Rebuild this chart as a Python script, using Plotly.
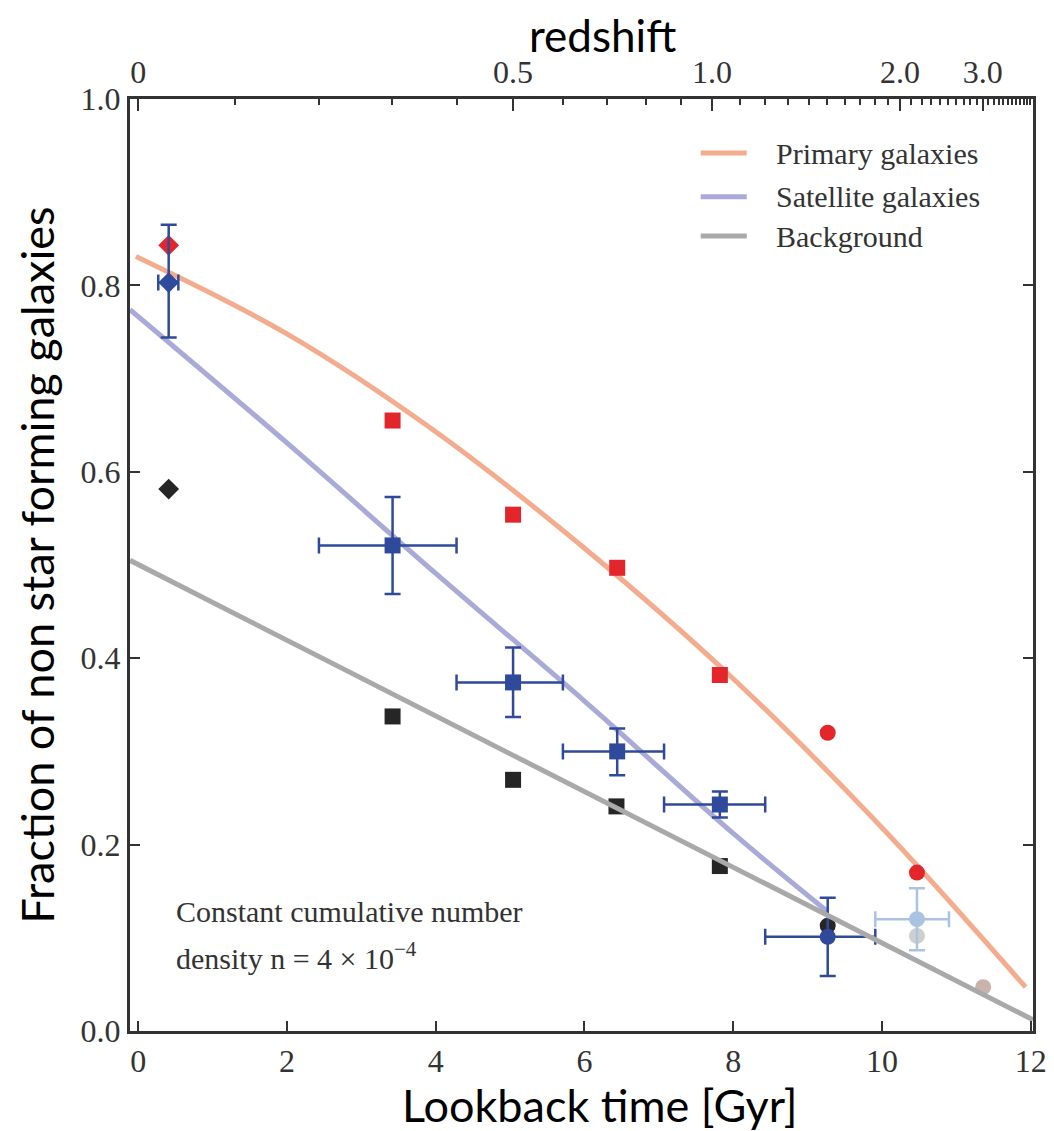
import numpy as np
import plotly.graph_objects as go

# ---------------- data ----------------
# Primary galaxies (red)
prim_x = [0.41, 3.42, 5.04, 6.44, 7.82, 9.27, 10.47]
prim_y = [0.843, 0.655, 0.554, 0.497, 0.382, 0.320, 0.170]
prim_sym = ["diamond", "square", "square", "square", "square", "circle", "circle"]

# Satellite galaxies (blue) with error bounds
sat_x = [0.41, 3.42, 5.04, 6.44, 7.82, 9.27]
sat_y = [0.803, 0.521, 0.374, 0.300, 0.243, 0.101]
sat_xlo = [0.27, 2.43, 4.28, 5.71, 7.07, 8.43]
sat_xhi = [0.54, 4.28, 5.71, 7.07, 8.43, 9.91]
sat_ylo = [0.744, 0.469, 0.337, 0.2745, 0.229, 0.059]
sat_yhi = [0.865, 0.573, 0.4115, 0.3246, 0.257, 0.143]
sat_sym = ["diamond", "square", "square", "square", "square", "circle"]

# Satellite, faded high-z point
satf_x = [10.47]
satf_y = [0.120]
satf_xlo = [9.91]
satf_xhi = [10.90]
satf_ylo = [0.0866]
satf_yhi = [0.1532]

# Background (black)
bg_x = [0.41, 3.42, 5.04, 6.43, 7.82, 9.27, 10.47, 11.36]
bg_y = [0.5815, 0.3375, 0.2695, 0.241, 0.177, 0.113, 0.102, 0.047]
bg_sym = ["diamond", "square", "square", "square", "square", "circle", "circle", "circle"]
bg_col = ["#262626"] * 6 + ["#CFCFCF", "#C9B3AA"]

# Trend curves
prim_line_x = [-0.03, 2.0, 4.0, 6.0, 8.0, 10.0, 11.93]
prim_line_y = [0.831, 0.748, 0.643, 0.518, 0.378, 0.218, 0.047]
sat_line_x = [-0.11, 2.0, 4.0, 6.0, 8.0, 9.27]
sat_line_y = [0.774, 0.631, 0.491, 0.354, 0.212, 0.128]
bg_line_x = [-0.11, 12.03]
bg_line_y = [0.505, 0.012]

# Axis ticks
x_ticks = [0, 2, 4, 6, 8, 10, 12]
y_ticks = [0.0, 0.2, 0.4, 0.6, 0.8, 1.0]
z_major = [0.0, 0.5, 1.0, 2.0, 3.0]
z_major_text = ["0", "0.5", "1.0", "2.0", "3.0"]
z_minor = [round(0.1 * i, 1) for i in range(1, 44)]

legend_names = ["Primary galaxies", "Satellite galaxies", "Background"]
legend_colors = ["#F4AC8F", "#A9AAD7", "#A9A9A9"]

RED = "#E2262C"
BLUE = "#2F4A9B"
LBLUE = "#A9C3E0"
AX = "#333333"
SERIF = "Liberation Serif"
SANS = "Lato"

XR = [-0.11, 12.03]


def lookback(z, H0=70.0, om=0.3):
    """Lookback time in Gyr for flat LCDM (scale mapping for top axis)."""
    if z <= 0:
        return 0.0
    zz = np.linspace(0.0, z, 4001)
    f = 1.0 / ((1 + zz) * np.sqrt(om * (1 + zz) ** 3 + (1 - om)))
    return 977.8 / H0 * np.trapezoid(f, zz)


z_major_t = [lookback(z) for z in z_major]
z_minor_t = [lookback(z) for z in z_minor if z not in z_major]
z_minor_t = [t for t in z_minor_t if t <= XR[1]]

fig = go.Figure()

# lines (background line drawn on the top axis, which shares the same range)
fig.add_trace(go.Scatter(x=bg_line_x, y=bg_line_y, mode="lines", xaxis="x2",
                         line=dict(color=legend_colors[2], width=5), showlegend=False,
                         hoverinfo="skip"))
fig.add_trace(go.Scatter(x=sat_line_x, y=sat_line_y, mode="lines",
                         line=dict(color=legend_colors[1], width=5, shape="spline"),
                         showlegend=False, hoverinfo="skip"))
fig.add_trace(go.Scatter(x=prim_line_x, y=prim_line_y, mode="lines",
                         line=dict(color=legend_colors[0], width=5, shape="spline"),
                         showlegend=False, hoverinfo="skip"))

# primary markers
fig.add_trace(go.Scatter(x=prim_x, y=prim_y, mode="markers", showlegend=False,
                         marker=dict(symbol=prim_sym, size=16, color=RED, line=dict(width=0))))
# background markers
fig.add_trace(go.Scatter(x=bg_x, y=bg_y, mode="markers", showlegend=False,
                         marker=dict(symbol=bg_sym, size=16, color=bg_col, line=dict(width=0))))

# satellite faded
fig.add_trace(go.Scatter(
    x=satf_x, y=satf_y, mode="markers", showlegend=False,
    marker=dict(symbol="circle", size=16, color=LBLUE, line=dict(width=0)),
    error_x=dict(type="data", symmetric=False,
                 array=[h - v for h, v in zip(satf_xhi, satf_x)],
                 arrayminus=[v - l for l, v in zip(satf_xlo, satf_x)],
                 color=LBLUE, thickness=2.5, width=8),
    error_y=dict(type="data", symmetric=False,
                 array=[h - v for h, v in zip(satf_yhi, satf_y)],
                 arrayminus=[v - l for l, v in zip(satf_ylo, satf_y)],
                 color=LBLUE, thickness=2.5, width=8)))

# satellite
fig.add_trace(go.Scatter(
    x=sat_x, y=sat_y, mode="markers", showlegend=False,
    marker=dict(symbol=sat_sym, size=16, color=BLUE, line=dict(width=0)),
    error_x=dict(type="data", symmetric=False,
                 array=[h - v for h, v in zip(sat_xhi, sat_x)],
                 arrayminus=[v - l for l, v in zip(sat_xlo, sat_x)],
                 color=BLUE, thickness=2.5, width=8),
    error_y=dict(type="data", symmetric=False,
                 array=[h - v for h, v in zip(sat_yhi, sat_y)],
                 arrayminus=[v - l for l, v in zip(sat_ylo, sat_y)],
                 color=BLUE, thickness=2.5, width=8)))

# manual legend
leg_y = [0.942, 0.895, 0.853]
shapes = []
annotations = []
for name, col, yy in zip(legend_names, legend_colors, leg_y):
    shapes.append(dict(type="line", xref="paper", yref="paper", x0=0.632, x1=0.683,
                       y0=yy, y1=yy, line=dict(color=col, width=5)))
    annotations.append(dict(text=name, xref="paper", yref="paper", x=0.713, y=yy,
                            xanchor="left", yanchor="middle", showarrow=False,
                            font=dict(family=SERIF, size=30, color=AX)))

annotations.append(dict(text="Constant cumulative number", xref="paper", yref="paper",
                        x=0.049, y=0.128, xanchor="left", yanchor="middle", showarrow=False,
                        font=dict(family=SERIF, size=30, color=AX)))
annotations.append(dict(text="density n = 4 × 10<sup>−4</sup>", xref="paper", yref="paper",
                        x=0.049, y=0.080, xanchor="left", yanchor="middle", showarrow=False,
                        font=dict(family=SERIF, size=30, color=AX)))

# axis titles placed as annotations for exact positioning
annotations.append(dict(text="redshift", xref="paper", yref="paper",
                        x=0.523, y=1.0687, xanchor="center", yanchor="middle", showarrow=False,
                        font=dict(family=SANS, size=44, color="black")))
annotations.append(dict(text="Lookback time [Gyr]", xref="paper", yref="paper",
                        x=0.5205, y=-0.079, xanchor="center", yanchor="middle", showarrow=False,
                        font=dict(family=SANS, size=45, color="black")))

# page body has an 8px margin: figure is placed at (8, 8)
fig.update_layout(
    width=1046, height=1123,
    margin=dict(l=122, r=21, t=91, b=100, autoexpand=False),
    paper_bgcolor="white", plot_bgcolor="white",
    shapes=shapes, annotations=annotations,
    xaxis=dict(range=XR, tickmode="array", tickvals=x_ticks,
               ticktext=[str(v) for v in x_ticks],
               ticks="inside", ticklen=10, tickwidth=2, tickcolor=AX,
               showline=True, linewidth=3, linecolor=AX, mirror=True,
               showgrid=False, zeroline=False,
               tickfont=dict(family=SERIF, size=32, color=AX)),
    xaxis2=dict(range=XR, overlaying="x", side="top", anchor="y",
                tickmode="array", tickvals=z_major_t, ticktext=z_major_text,
                ticks="inside", ticklen=12, tickwidth=2, tickcolor=AX,
                minor=dict(tickmode="array", tickvals=z_minor_t, ticks="inside",
                           ticklen=6, tickwidth=1.5, tickcolor=AX),
                showline=True, linewidth=3, linecolor=AX,
                showgrid=False, zeroline=False,
                tickfont=dict(family=SERIF, size=32, color=AX)),
    yaxis=dict(range=[0, 1], tickmode="array", tickvals=y_ticks,
               ticktext=[f"{v:.1f}" for v in y_ticks],
               ticks="inside", ticklen=10, tickwidth=2, tickcolor=AX,
               showline=True, linewidth=3, linecolor=AX, mirror="ticks",
               showgrid=False, zeroline=False,
               tickfont=dict(family=SERIF, size=32, color=AX),
               title=dict(text="Fraction of non star forming galaxies", standoff=12,
                          font=dict(family=SANS, size=45, color="black"))),
)

fig.write_html("out.html")
